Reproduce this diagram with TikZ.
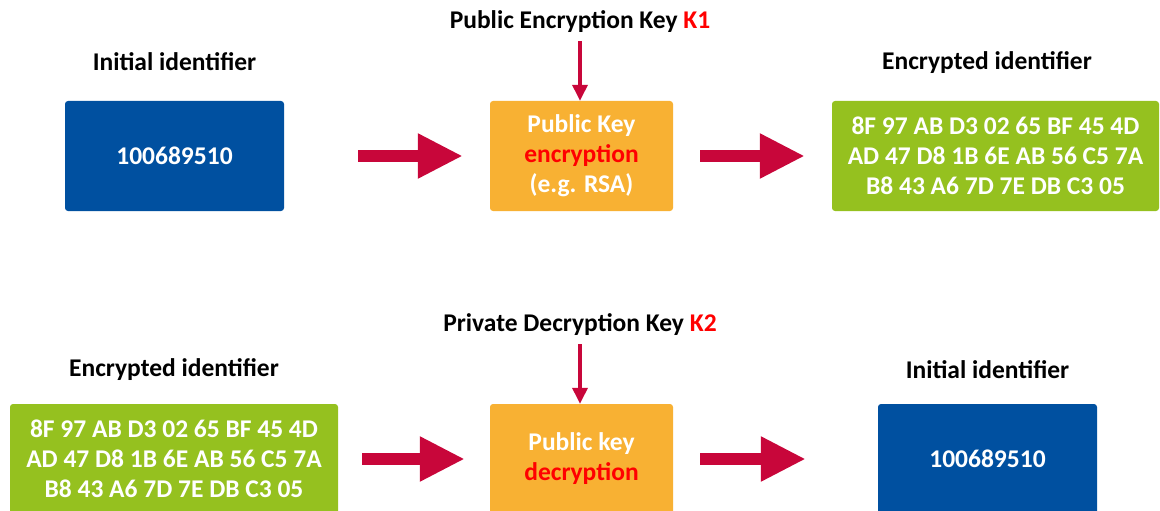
\documentclass[tikz,border=0pt]{standalone}
\usepackage{fontspec}
\setmainfont{Carlito}
\usetikzlibrary{arrows.meta}
\definecolor{boxblue}{HTML}{0050A0}
\definecolor{boxorange}{HTML}{F8B133}
\definecolor{boxgreen}{HTML}{95C11F}
\definecolor{arrowred}{HTML}{C8063A}
\definecolor{txtred}{HTML}{FF0000}
\tikzset{
  box/.style={rectangle, rounded corners=3pt, inner sep=0pt, text=white,
    font=\bfseries\fontsize{25.5}{30}\selectfont, align=center},
  title/.style={font=\bfseries\fontsize{25.5}{28}\selectfont, text=black, inner sep=2pt},
  bigarrow/.style={arrowred, line width=12pt, -{Triangle[length=45pt,width=42pt]}},
  keyarrow/.style={arrowred, line width=3.5pt, -{Triangle[length=16pt,width=15pt]}},
}
\begin{document}
\begin{tikzpicture}[x=1pt,y=-1pt]
\useasboundingbox (0,0) rectangle (1160,511);
\clip (0,0) rectangle (1160,511);
% top row
\node[title] (k1) at (580,22) {Public Encryption Key \textcolor{txtred}{K1}};
\node[title] (t1) at (174.5,62) {Initial identifier};
\node[title] (t2) at (987,63) {Encrypted identifier};
\node[box, fill=boxblue, minimum width=219pt, minimum height=110pt] (b1) at (174.5,156) {100689510};
\node[box, fill=boxorange, minimum width=183pt, minimum height=110pt] (o1) at (581.5,156) {Public Key\\\textcolor{txtred}{encryption}\\(e.g. RSA)};
\node[box, fill=boxgreen, minimum width=327pt, minimum height=110pt] (g1) at (995.5,156) {8F 97 AB D3 02 65 BF 45 4D\\AD 47 D8 1B 6E AB 56 C5 7A\\B8 43 A6 7D 7E DB C3 05};
\draw[keyarrow, shorten <=6pt] (k1.south) -- (k1.south |- o1.north);
\draw[bigarrow, shorten <=74pt, shorten >=27pt] (b1.east) -- (o1.west);
\draw[bigarrow, shorten <=27pt, shorten >=27pt] (o1.east) -- (g1.west);
% bottom row
\node[title] (k2) at (580,325) {Private Decryption Key \textcolor{txtred}{K2}};
\node[title] (t3) at (174,370) {Encrypted identifier};
\node[title] (t4) at (987.5,370) {Initial identifier};
\node[box, fill=boxgreen, minimum width=328pt, minimum height=110pt] (g2) at (174,459) {8F 97 AB D3 02 65 BF 45 4D\\AD 47 D8 1B 6E AB 56 C5 7A\\B8 43 A6 7D 7E DB C3 05};
\node[box, fill=boxorange, minimum width=183pt, minimum height=110pt] (o2) at (581.5,459) {Public key\\\textcolor{txtred}{decryption}};
\node[box, fill=boxblue, minimum width=219pt, minimum height=110pt] (b2) at (987.5,459) {100689510};
\draw[keyarrow, shorten <=6pt] (k2.south) -- (k2.south |- o2.north);
\draw[bigarrow, shorten <=24pt, shorten >=25pt] (g2.east) -- (o2.west);
\draw[bigarrow, shorten <=27pt, shorten >=72pt] (o2.east) -- (b2.west);
\end{tikzpicture}
\end{document}
